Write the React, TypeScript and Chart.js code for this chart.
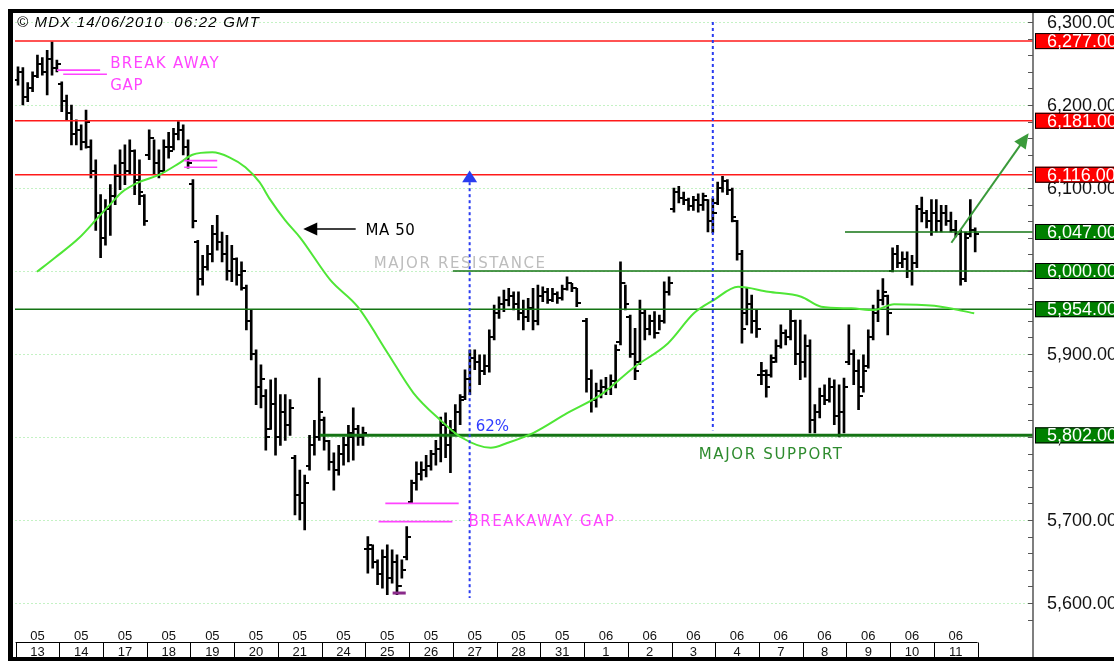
import React, { useEffect, useRef } from 'react';
import { Chart, registerables } from 'chart.js';

Chart.register(...registerables);

// ---------- categories / tick labels ----------
const monthLabels = ['05','05','05','05','05','05','05','05','05','05','05','05','05','06','06','06','06','06','06','06','06','06'];
const dayLabels = ['13','14','17','18','19','20','21','24','25','26','27','28','31','1','2','3','4','7','8','9','10','11'];
const barsPerDay = 9;
const yTickValues = [5600, 5700, 5800, 5900, 6000, 6100, 6200, 6300];

// ---------- OHLC series (9 intraday bars per day) ----------
const opens = [
  6230,6240,6210,6220,6235,6250,6240,6255,6245,
  6225,6205,6190,6165,6170,6155,6150,6120,6070,
  6040,6075,6090,6115,6130,6120,6145,6110,6090,
  6140,6160,6130,6120,6150,6150,6165,6170,6150,
  6105,6035,5990,6005,6020,6045,6035,6020,6000,
  6015,5995,5980,5940,5900,5860,5850,5810,5840,
  5800,5830,5815,5775,5730,5720,5765,5790,5800,
  5820,5795,5770,5760,5780,5790,5800,5810,5800,
  5665,5665,5650,5635,5655,5630,5650,5620,5655,
  5722,5745,5755,5760,5765,5780,5785,5815,5790,
  5808,5830,5848,5870,5895,5890,5880,5885,5920,
  5950,5960,5965,5970,5960,5950,5945,5955,5940,
  5970,5975,5965,5972,5968,5978,5985,5980,null,
  5940,5870,5845,5855,5860,5858,5868,5915,5985,
  5945,5900,5890,5950,5930,5940,5925,5940,5975,
  6075,6095,6088,6085,6078,6085,6080,6085,6060,
  6082,6100,6108,6098,6060,6020,5950,5960,5940,
  5875,5875,5875,5895,5910,5925,5920,5940,5900,
  5890,5910,5820,5830,5850,5845,5860,5825,5830,
  5890,5900,5880,5860,5885,5920,5950,5965,5970,
  6000,6020,6010,6015,6000,6010,6075,6070,6060,
  6070,6060,6070,6060,6050,6045,5990,6045,6050,
];
const highs = [
  6246,6245,6227,6240,6260,6257,6266,6276,6254,
  6228,6212,6200,6182,6176,6194,6158,6134,6092,
  6086,6104,6128,6146,6152,6158,6146,6134,6092,
  6170,6158,6146,6158,6167,6172,6180,6176,6158,
  6110,6037,6019,6031,6055,6067,6047,6043,6031,
  6016,6011,5983,5953,5905,5887,5857,5869,5871,
  5851,5851,5845,5778,5760,5754,5802,5820,5871,
  5824,5796,5781,5790,5800,5814,5835,5814,5812,
  5680,5670,5652,5664,5670,5664,5658,5652,5692,
  5748,5770,5770,5778,5784,5796,5824,5829,5820,
  5839,5851,5881,5905,5905,5899,5899,5929,5959,
  5969,5977,5979,5975,5975,5965,5967,5979,5983,
  5981,5979,5979,5975,5983,5993,5985,5979,null,
  5943,5881,5865,5869,5872,5875,5911,6011,5983,
  5947,5931,5965,5953,5947,5951,5947,5987,5993,
  6100,6102,6095,6088,6090,6093,6094,6086,6088,
  6107,6114,6110,6100,6061,6025,5980,5971,5953,
  5890,5881,5899,5917,5935,5929,5953,5941,5941,
  5923,5917,5839,5859,5863,5871,5869,5863,5871,
  5935,5905,5893,5899,5929,5959,5977,5991,5971,
  6028,6031,6023,6023,6019,6079,6089,6073,6086,
  6086,6079,6079,6071,6061,6049,6047,6086,6052,
];
const lows = [
  6224,6200,6204,6216,6233,6236,6212,6236,6240,
  6192,6182,6152,6152,6146,6148,6112,6049,6016,
  6031,6043,6080,6098,6104,6116,6092,6080,6055,
  6134,6116,6112,6119,6136,6146,6158,6140,6124,
  6052,5971,5983,6001,6011,6025,6011,5989,5987,
  5983,5977,5929,5893,5839,5835,5784,5809,5778,
  5790,5796,5802,5706,5700,5688,5760,5778,5796,
  5784,5760,5736,5754,5766,5770,5772,5790,5790,
  5636,5642,5622,5618,5610,5624,5610,5630,5652,
  5720,5736,5748,5752,5760,5766,5770,5775,5757,
  5805,5815,5845,5851,5881,5863,5875,5878,5917,
  5943,5951,5958,5953,5941,5929,5939,5929,5935,
  5963,5961,5963,5961,5965,5977,5975,5957,null,
  5854,5830,5836,5847,5851,5851,5859,5911,5953,
  5896,5869,5887,5917,5923,5919,5929,5937,5971,
  6071,6082,6080,6073,6073,6071,6073,6047,6046,
  6080,6095,6092,6059,6013,5913,5935,5925,5920,
  5863,5848,5872,5890,5907,5911,5917,5887,5869,
  5872,5805,5805,5823,5839,5842,5815,5800,5805,
  5887,5863,5833,5854,5883,5917,5939,5959,5923,
  5999,6004,6004,5992,5983,6004,6059,6052,6043,
  6047,6047,6055,6047,6041,5983,5987,6041,6023,
];
const closes = [
  6240,6210,6220,6235,6250,6240,6255,6245,6250,
  6205,6190,6165,6170,6155,6180,6120,6070,6040,
  6075,6090,6115,6130,6120,6145,6110,6095,6060,
  6160,6130,6120,6150,6145,6165,6170,6150,6130,
  6060,5990,6005,6020,6045,6035,6020,6000,6015,
  5995,6000,5940,5900,5860,5870,5800,5840,5800,
  5830,5815,5835,5730,5720,5745,5790,5800,5830,
  5795,5770,5760,5780,5790,5805,5810,5800,5805,
  5670,5650,5635,5655,5630,5650,5620,5640,5680,
  5745,5755,5760,5765,5780,5785,5815,5790,5805,
  5830,5845,5870,5895,5890,5880,5885,5920,5950,
  5960,5965,5970,5960,5950,5945,5955,5940,5970,
  5975,5965,5972,5968,5978,5985,5980,5962,null,
  5870,5845,5855,5860,5858,5868,5905,5985,5960,
  5900,5880,5950,5930,5940,5925,5940,5975,5985,
  6095,6088,6085,6078,6085,6080,6090,6060,6070,
  6100,6108,6098,6065,6020,5930,5960,5940,5930,
  5880,5860,5890,5910,5925,5920,5940,5900,5890,
  5910,5820,5830,5850,5845,5860,5825,5830,5860,
  5900,5880,5850,5880,5920,5950,5965,5975,5950,
  6020,6010,6015,6000,6010,6075,6070,6060,6070,
  6060,6070,6060,6050,6045,5990,6040,6050,6045,
];

// ---------- 50-period moving average (read at bar positions) ----------
const maBarIndex = [3.9,7.6,12.6,16.7,19.4,21.4,24.9,29.1,33.2,35.9,40.0,43.5,46.8,49.7,51.9,55.0,58.1,64.3,69.9,76.1,81.4,87.0,91.1,97.3,100.8,106.1,113.1,120.0,126.8,133.8,139.1,143.2,148.2,154.4,161.2,165.3,171.5,176.2,180.3,188.6,196.8];
const maValues = [5999,6016,6040,6066,6083,6095,6107,6116,6130,6140,6143,6137,6125,6107,6086,6061,6040,5989,5957,5901,5853,5820,5800,5787,5793,5805,5829,5851,5884,5913,5949,5965,5981,5975,5969,5957,5955,5953,5960,5958,5949];

// ---------- levels ----------
const resistanceLevels = [6277, 6181, 6116];
const supportLevels = [6047, 6000, 5954, 5802];

// ---------- annotation layout (data coordinates: bar index, price) ----------
const supportLineStart = [170.2, 89.5, -0.62, 62.1];
const MAGENTA = '#ff44ff';
const notes = [
  { text: 'BREAK AWAY', i: 18.96, v: 6244.6, width: 110, color: MAGENTA },
  { text: 'GAP', i: 18.96, v: 6218, width: 33, color: MAGENTA },
  { text: 'BREAKAWAY GAP', i: 92.7, v: 5693, width: 147, color: MAGENTA },
  { text: 'MAJOR RESISTANCE', i: 73.2, v: 6003.6, width: 173, color: '#bdbdbd' },
  { text: 'MAJOR SUPPORT', i: 140.1, v: 5773.5, width: 145, color: '#2e8b2e' },
  { text: 'MA 50', i: 71.5, v: 6043, width: 50, color: '#000000' },
  { text: '62%', i: 94.2, v: 5807, width: 33, color: '#2f3cff' },
];
const gapMarks = [
  [8.0, 16.9, 6242], [9.3, 18.3, 6237],
  [34.2, 41.0, 6133], [34.2, 41.0, 6125],
  [75.6, 90.7, 5720], [74.2, 89.4, 5698],
];

const Y_MIN = 5575, Y_MAX = 6310, X_MIN = -0.62, X_MAX = 208.9;
const fmt = (v: number) => v.toLocaleString('en-US', { minimumFractionDigits: 2, maximumFractionDigits: 2 });

function fitText(ctx: any, text: string, x: number, y: number, width: number, font: string, color: string) {
  ctx.font = font;
  ctx.fillStyle = color;
  ctx.letterSpacing = '0px';
  const w = ctx.measureText(text).width;
  const sp = Math.max(0, (width - w) / text.length);
  ctx.letterSpacing = sp.toFixed(2) + 'px';
  ctx.fillText(text, x, y);
  ctx.letterSpacing = '0px';
}

function arrowHead(ctx: any, x1: number, y1: number, x2: number, y2: number, len: number, half: number) {
  const a = Math.atan2(y2 - y1, x2 - x1);
  const bx = x2 - Math.cos(a) * len, by = y2 - Math.sin(a) * len;
  ctx.beginPath();
  ctx.moveTo(x2, y2);
  ctx.lineTo(bx + Math.sin(a) * half, by - Math.cos(a) * half);
  ctx.lineTo(bx - Math.sin(a) * half, by + Math.cos(a) * half);
  ctx.closePath();
  ctx.fill();
}

const overlay = {
  id: 'overlay',
  beforeDatasetsDraw(chart: any) {
    const { ctx, chartArea: a, scales: { y } } = chart;
    ctx.save();
    ctx.strokeStyle = '#c4f2c4';
    ctx.lineWidth = 1;
    ctx.setLineDash([2, 2]);
    for (const v of yTickValues) {
      const yy = Math.round(y.getPixelForValue(v)) + 0.5;
      ctx.beginPath(); ctx.moveTo(a.left, yy); ctx.lineTo(a.right, yy); ctx.stroke();
    }
    ctx.restore();
  },
  afterDatasetDraw(chart: any, args: any) {
    if (args.index !== 3) return;
    const { ctx, chartArea: a, scales: { x, y } } = chart;
    ctx.save();
    ctx.strokeStyle = '#ff1a1a';
    ctx.lineWidth = 1.5;
    for (const v of resistanceLevels) {
      const yy = y.getPixelForValue(v);
      ctx.beginPath(); ctx.moveTo(a.left, yy); ctx.lineTo(a.right, yy); ctx.stroke();
    }
    supportLevels.forEach((v, k) => {
      const yy = y.getPixelForValue(v);
      ctx.strokeStyle = '#147414';
      ctx.lineWidth = v === 5802 ? 3 : 1.5;
      ctx.beginPath(); ctx.moveTo(Math.max(a.left, x.getPixelForValue(supportLineStart[k])), yy); ctx.lineTo(a.right, yy); ctx.stroke();
    });
    ctx.restore();
  },
  afterDatasetsDraw(chart: any) {
    const { ctx, chartArea: a, scales: { x, y } } = chart;
    const W = chart.width, H = chart.height;
    const X = (i: number) => x.getPixelForValue(i);
    const Y = (v: number) => y.getPixelForValue(v);
    ctx.save();

    // gap marks
    ctx.strokeStyle = MAGENTA;
    ctx.lineWidth = 1.6;
    for (const [i0, i1, v] of gapMarks) {
      ctx.beginPath(); ctx.moveTo(X(i0), Y(v)); ctx.lineTo(X(i1), Y(v)); ctx.stroke();
    }
    ctx.strokeStyle = '#8a2a8a';
    ctx.lineWidth = 3;
    ctx.beginPath(); ctx.moveTo(X(77.1), Y(5612)); ctx.lineTo(X(79.8), Y(5612)); ctx.stroke();

    // blue dotted verticals
    ctx.strokeStyle = '#2a3cf0';
    ctx.lineWidth = 2;
    ctx.setLineDash([3, 3]);
    ctx.beginPath(); ctx.moveTo(X(92.95), Y(6107)); ctx.lineTo(X(92.95), Y(5606)); ctx.stroke();
    ctx.beginPath(); ctx.moveTo(X(143.0), Y(6300)); ctx.lineTo(X(143.0), Y(5808)); ctx.stroke();
    ctx.setLineDash([]);
    ctx.fillStyle = '#2a3cf0';
    ctx.beginPath();
    ctx.moveTo(X(92.95), Y(6121));
    ctx.lineTo(X(92.95) + 7.5, Y(6107));
    ctx.lineTo(X(92.95) - 7.5, Y(6107));
    ctx.closePath(); ctx.fill();

    // MA 50 arrow
    ctx.strokeStyle = '#000'; ctx.fillStyle = '#000'; ctx.lineWidth = 1.5;
    const ay = Y(6050.6);
    ctx.beginPath(); ctx.moveTo(X(69.5), ay); ctx.lineTo(X(61), ay); ctx.stroke();
    arrowHead(ctx, X(69.5), ay, X(58.7), ay, 14, 6.5);

    // green target arrow
    ctx.strokeStyle = '#3a9a3a'; ctx.fillStyle = '#3a9a3a'; ctx.lineWidth = 2;
    const gx1 = X(192.1), gy1 = Y(6034), gx2 = X(208.0), gy2 = Y(6166);
    ctx.beginPath(); ctx.moveTo(gx1, gy1); ctx.lineTo(gx2 - (gx2 - gx1) * 0.09, gy2 - (gy2 - gy1) * 0.09); ctx.stroke();
    arrowHead(ctx, gx1, gy1, gx2, gy2, 15, 7);

    // notes
    ctx.textBaseline = 'alphabetic';
    ctx.textAlign = 'left';
    for (const n of notes) {
      fitText(ctx, n.text, X(n.i), Y(n.v), n.width, '15px "DejaVu Sans"', n.color);
    }

    // title
    fitText(ctx, '\u00A9 MDX 14/06/2010  06:22 GMT', a.left + 2, a.top + 13.5, 243, 'italic 15px "Liberation Sans"', '#000');

    // right axis
    ctx.strokeStyle = '#555';
    ctx.lineWidth = 1.5;
    ctx.beginPath(); ctx.moveTo(a.right, 13); ctx.lineTo(a.right, 657); ctx.stroke();
    ctx.lineWidth = 1;
    for (let v = 5580; v <= 6300; v += 20) {
      const yy = Math.round(Y(v)) + 0.5;
      ctx.beginPath(); ctx.moveTo(a.right - 5, yy); ctx.lineTo(a.right, yy); ctx.stroke();
    }
    ctx.font = '18px "Liberation Sans"';
    ctx.fillStyle = '#111';
    ctx.textBaseline = 'middle';
    for (const v of yTickValues) ctx.fillText(fmt(v), a.right + 14, Y(v) + 1.5);

    // level value boxes
    const box = (v: number, fill: string) => {
      const yy = Y(v);
      ctx.fillStyle = fill;
      ctx.fillRect(a.right + 2, yy - 8, W - a.right, 16);
      ctx.strokeStyle = '#000'; ctx.lineWidth = 1;
      ctx.strokeRect(a.right + 2.5, yy - 7.5, W - a.right, 15);
      ctx.fillStyle = '#ffffff';
      ctx.fillText(fmt(v), a.right + 14, yy + 1);
    };
    resistanceLevels.forEach(v => box(v, '#ff0000'));
    supportLevels.forEach(v => box(v, '#008000'));

    // x axis labels
    ctx.fillStyle = '#111';
    ctx.font = '13px "Liberation Sans"';
    ctx.textAlign = 'center';
    const rowTop = 642.5;
    ctx.strokeStyle = '#000'; ctx.lineWidth = 1;
    ctx.beginPath(); ctx.moveTo(X(-0.5), rowTop); ctx.lineTo(X(dayLabels.length * barsPerDay - 0.5), rowTop); ctx.stroke();
    dayLabels.forEach((d, k) => {
      const cx = X(k * barsPerDay + (barsPerDay - 1) / 2);
      ctx.fillText(monthLabels[k], cx, 636);
      ctx.fillText(d, cx, 652);
    });
    for (let k = 0; k <= dayLabels.length; k++) {
      const xx = Math.round(X(k * barsPerDay - 0.5)) + 0.5;
      ctx.beginPath(); ctx.moveTo(xx, rowTop); ctx.lineTo(xx, 658); ctx.stroke();
    }

    // frame
    ctx.fillStyle = '#000';
    ctx.fillRect(8, 9, W - 8, 4);
    ctx.fillRect(8, 9, 5, H - 9);
    ctx.fillRect(8, H - 4, W - 8, 4);
    ctx.restore();
  },
};

export default function App() {
  const ref = useRef<HTMLCanvasElement>(null);
  useEffect(() => {
    const canvas = ref.current!;
    const mkTick = (left: boolean) => {
      const c = document.createElement('canvas');
      c.width = 8; c.height = 2;
      const g = c.getContext('2d')!;
      g.fillStyle = '#000';
      g.fillRect(left ? 0 : 4, 0, 4, 2);
      return c;
    };
    const rangeData: any[] = [], openData: any[] = [], closeData: any[] = [];
    highs.forEach((h, i) => {
      if (h == null || lows[i] == null) return;
      rangeData.push({ x: i, y: [lows[i], h] });
      openData.push({ x: i, y: opens[i] });
      closeData.push({ x: i, y: closes[i] });
    });
    const chart = new Chart(canvas, {
      type: 'line',
      data: {
        datasets: [
          { type: 'line', label: 'MA 50', data: maBarIndex.map((xv, k) => ({ x: xv, y: maValues[k] })), borderColor: '#4fe636', borderWidth: 2, pointRadius: 0, cubicInterpolationMode: 'monotone', fill: false, order: 0 } as any,
          { type: 'bar', label: 'High-Low', data: rangeData, backgroundColor: '#000', barThickness: 2, order: 3 } as any,
          { type: 'line', label: 'Open', data: openData, showLine: false, pointStyle: mkTick(true), pointRadius: 3, order: 2 } as any,
          { type: 'line', label: 'Close', data: closeData, showLine: false, pointStyle: mkTick(false), pointRadius: 3, order: 1 } as any,
        ],
      },
      options: {
        responsive: false,
        animation: false,
        devicePixelRatio: 1,
        events: [],
        layout: { padding: { left: 15, right: 81, top: 13.7, bottom: 37.25 } },
        plugins: { legend: { display: false }, tooltip: { enabled: false } },
        scales: {
          x: { type: 'linear', min: X_MIN, max: X_MAX, display: false, offset: false },
          y: { type: 'linear', min: Y_MIN, max: Y_MAX, display: false },
        },
      } as any,
      plugins: [overlay as any],
    });
    return () => chart.destroy();
  }, []);
  return (
    <div style={{ position: 'fixed', left: 0, top: 0, width: 1114, height: 661, background: '#fff' }}>
      <canvas ref={ref} width={1114} height={661} style={{ display: 'block' }} />
    </div>
  );
}
